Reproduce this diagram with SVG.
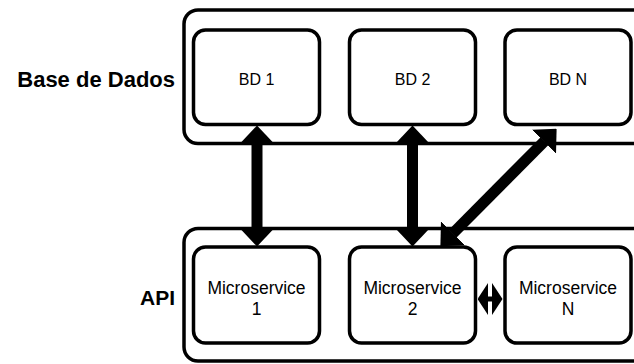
<svg xmlns="http://www.w3.org/2000/svg" width="634" height="364" viewBox="0 0 634 364">
  <style>
    .container { fill: #ffffff; stroke: #000000; stroke-width: 3.5; }
    .box { fill: #ffffff; stroke: #000000; stroke-width: 3.5; }
    .lbl { font-family: "Liberation Sans", Arial, Helvetica, sans-serif; fill: #000000; }
    .side { font-weight: bold; text-anchor: end; }
    .bd { font-size: 16px; text-anchor: middle; }
    .ms { font-size: 17.5px; text-anchor: middle; }
    .conn { stroke: #000000; fill: none; }
  </style>
  <defs>
    <marker id="head" markerUnits="userSpaceOnUse" markerWidth="18" markerHeight="34" viewBox="0 0 18 34" refX="0.5" refY="17" orient="auto-start-reverse">
      <path d="M0,0 L18,17 L0,34 z" fill="#000000"/>
    </marker>
    <marker id="headSmall" markerUnits="userSpaceOnUse" markerWidth="10.5" markerHeight="32" viewBox="0 0 10.5 32" refX="0.5" refY="16" orient="auto-start-reverse">
      <path d="M0,0 L10.5,16 L0,32 z" fill="#000000"/>
    </marker>
  </defs>
  <rect width="634" height="364" fill="#ffffff"/>

  <g id="group-db">
    <rect class="container" x="184" y="10" width="470" height="133.5" rx="14"/>
    <text class="lbl side" x="175" y="87" font-size="22">Base de Dados</text>
  </g>
  <g id="group-api">
    <rect class="container" x="184" y="228.5" width="470" height="132.5" rx="14"/>
    <text class="lbl side" x="175" y="305" font-size="21">API</text>
  </g>

  <g id="bd1">
    <rect class="box" x="193.5" y="30" width="126" height="94.5" rx="12"/>
    <text class="lbl bd" x="256.5" y="85">BD 1</text>
  </g>
  <g id="bd2">
    <rect class="box" x="349.5" y="30" width="126" height="94.5" rx="12"/>
    <text class="lbl bd" x="412.5" y="85">BD 2</text>
  </g>
  <g id="bdn">
    <rect class="box" x="505" y="30" width="126" height="94.5" rx="12"/>
    <text class="lbl bd" x="568" y="85">BD N</text>
  </g>

  <g id="ms1">
    <rect class="box" x="193.5" y="247" width="126" height="96" rx="12"/>
    <text class="lbl ms" x="256.5" y="293.5">Microservice</text>
    <text class="lbl ms" x="256.5" y="315">1</text>
  </g>
  <g id="ms2">
    <rect class="box" x="349.5" y="247" width="126" height="96" rx="12"/>
    <text class="lbl ms" x="412.5" y="293.5">Microservice</text>
    <text class="lbl ms" x="412.5" y="315">2</text>
  </g>
  <g id="msn">
    <rect class="box" x="505" y="247" width="126" height="96" rx="12"/>
    <text class="lbl ms" x="568" y="293.5">Microservice</text>
    <text class="lbl ms" x="568" y="315">N</text>
  </g>

  <g id="connectors">
    <line class="conn" x1="257" y1="143" x2="257" y2="229" stroke-width="11" marker-start="url(#head)" marker-end="url(#head)"/>
    <line class="conn" x1="412.5" y1="143" x2="412.5" y2="229" stroke-width="11" marker-start="url(#head)" marker-end="url(#head)"/>
    <line class="conn" x1="452.7" y1="233.7" x2="544.3" y2="141.3" stroke-width="11" marker-start="url(#head)" marker-end="url(#head)"/>
    <line class="conn" x1="487.5" y1="299" x2="492.5" y2="299" stroke-width="5" marker-start="url(#headSmall)" marker-end="url(#headSmall)"/>
  </g>
</svg>
